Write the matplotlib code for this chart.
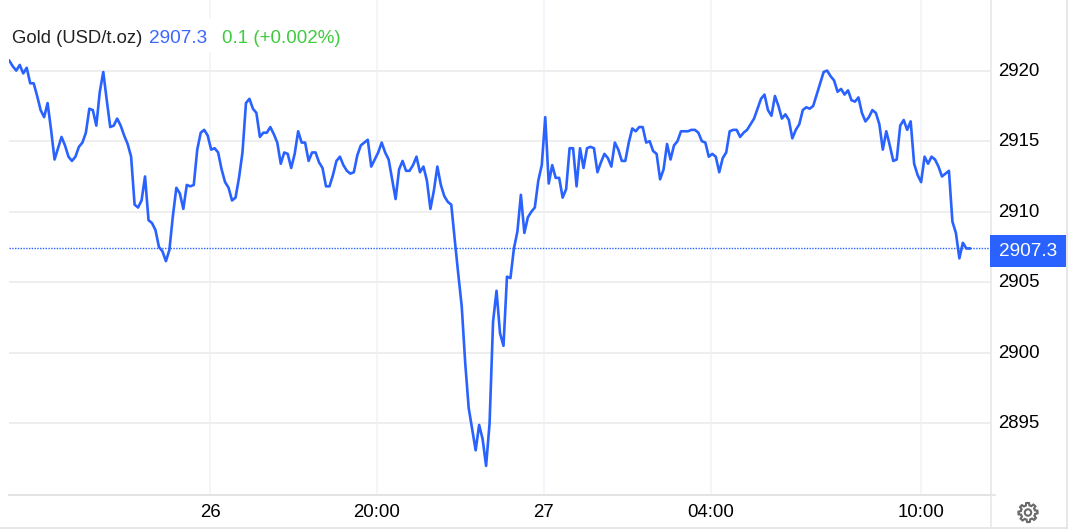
"""Gold (USD/t.oz) intraday price chart."""

import matplotlib

matplotlib.use("Agg")

import matplotlib.pyplot as plt
import numpy as np
from matplotlib.patches import Circle, Polygon, Rectangle
from matplotlib.transforms import ScaledTranslation

plt.rcParams["font.family"] = ["Liberation Sans", "DejaVu Sans"]

WIDTH, HEIGHT = 1069, 529
BLUE = "#2962ff"

# 5-minute closes
prices = [
    2920.7, 2920.3, 2920.0, 2920.4, 2919.8, 2920.2, 2919.1, 2919.1, 2918.2, 2917.2,
    2916.7, 2917.7, 2915.8, 2913.7, 2914.5, 2915.3, 2914.7, 2913.9, 2913.6, 2913.9,
    2914.6, 2914.9, 2915.6, 2917.3, 2917.2, 2916.1, 2918.5, 2919.9, 2917.9, 2916.0,
    2916.1, 2916.6, 2916.1, 2915.4, 2914.8, 2913.9, 2910.5, 2910.3, 2910.8, 2912.5,
    2909.4, 2909.2, 2908.7, 2907.5, 2907.2, 2906.5, 2907.3, 2909.7, 2911.7, 2911.3,
    2910.2, 2911.9, 2911.8, 2911.9, 2914.4, 2915.6, 2915.8, 2915.4, 2914.4, 2914.5,
    2914.2, 2913.0, 2912.1, 2911.7, 2910.8, 2911.0, 2912.4, 2914.2, 2917.7, 2918.0,
    2917.3, 2917.0, 2915.3, 2915.6, 2915.6, 2916.0, 2915.5, 2914.9, 2913.4, 2914.2,
    2914.1, 2913.1, 2914.1, 2915.7, 2914.9, 2914.9, 2913.6, 2914.2, 2914.2, 2913.5,
    2913.1, 2911.8, 2911.8, 2912.6, 2913.6, 2913.9, 2913.3, 2912.9, 2912.7, 2912.8,
    2914.0, 2914.7, 2914.9, 2915.1, 2913.2, 2913.7, 2914.2, 2914.9, 2914.2, 2913.7,
    2912.3, 2910.9, 2913.0, 2913.6, 2912.9, 2912.9, 2913.3, 2913.9, 2912.8, 2913.2,
    2912.2, 2910.2, 2911.5, 2913.2, 2911.9, 2911.1, 2910.7, 2910.5, 2908.0, 2905.6,
    2903.3, 2899.3, 2896.1, 2894.6, 2893.1, 2894.9, 2893.9, 2892.0, 2895.0, 2902.2,
    2904.4, 2901.4, 2900.5, 2905.4, 2905.3, 2907.4, 2908.6, 2911.2, 2908.5, 2909.6,
    2910.0, 2910.3, 2912.2, 2913.3, 2916.7, 2912.0, 2913.3, 2912.4, 2912.4, 2911.0,
    2911.6, 2914.5, 2914.5, 2911.8, 2914.5, 2913.1, 2914.5, 2914.6, 2914.5, 2912.8,
    2913.5, 2914.1, 2913.8, 2913.2, 2914.9, 2914.4, 2913.6, 2913.6, 2914.9, 2915.9,
    2915.7, 2916.0, 2916.0, 2914.9, 2915.0, 2914.3, 2914.1, 2912.3, 2913.0, 2914.8,
    2913.7, 2914.7, 2915.0, 2915.7, 2915.7, 2915.7, 2915.8, 2915.8, 2915.6, 2915.0,
    2914.9, 2913.9, 2914.1, 2913.9, 2912.8, 2913.8, 2914.2, 2915.7, 2915.8, 2915.8,
    2915.3, 2915.6, 2915.8, 2916.2, 2916.6, 2917.3, 2918.0, 2918.3, 2917.2, 2916.8,
    2918.2, 2917.5, 2916.6, 2916.9, 2916.5, 2915.2, 2915.8, 2916.2, 2917.2, 2917.4,
    2917.3, 2917.5, 2918.3, 2919.1, 2919.9, 2920.0, 2919.6, 2919.3, 2918.5, 2918.7,
    2918.3, 2918.6, 2917.9, 2917.8, 2918.1, 2917.0, 2916.4, 2916.7, 2917.2, 2917.0,
    2916.2, 2914.4, 2915.7, 2914.7, 2913.6, 2913.7, 2916.1, 2916.5, 2915.8, 2916.4,
    2913.4, 2912.6, 2912.1, 2913.9, 2913.4, 2913.9, 2913.7, 2913.2, 2912.5, 2912.7,
    2912.9, 2909.3, 2908.5, 2906.7, 2907.8, 2907.4, 2907.4,
]
last_label = "2907.3"
y_ticks = [2895, 2900, 2905, 2910, 2915, 2920]
x_tick_bars = [57.7, 105.6, 153.6, 201.6, 262.0]
x_tick_labels = ["26", "20:00", "27", "04:00", "10:00"]

fig = plt.figure(figsize=(WIDTH / 100, HEIGHT / 100), dpi=100, facecolor="white")

# price panel: x 9-990 px, y 0-494.5 px
ax = fig.add_axes([9 / WIDTH, 1 - 494.5 / HEIGHT, 981 / WIDTH, 494.5 / HEIGHT])
ax.set_xlim(-0.09, 281.8)
ax.set_ylim(2889.97, 2925.0)

ax.plot(range(len(prices)), prices, color=BLUE, lw=1.9, zorder=3)
ax.axhline(prices[-1], color=BLUE, lw=1.0, ls=(0, (1, 1)), zorder=2)

for y in y_ticks:
    ax.axhline(y, color="#eeeeee", lw=1.4, zorder=1)
for x in x_tick_bars:
    ax.axvline(x, color="#f2f5fa", lw=1.4, zorder=0)

ax.set_xticks(x_tick_bars, x_tick_labels)
ax.set_yticks(y_ticks, [str(y) for y in y_ticks])
ax.tick_params(axis="x", length=0, pad=7, labelsize=13.4, labelcolor="#000000")
ax.tick_params(axis="y", length=0, pad=6, labelsize=13.4, labelcolor="#000000",
               left=False, right=False, labelleft=False, labelright=True)
# labels sit a little above their gridlines
nudge = ScaledTranslation(0, 1.5 / 100, fig.dpi_scale_trans)
for label in ax.get_yticklabels():
    label.set_transform(label.get_transform() + nudge)
for side in ["top", "left", "right"]:
    ax.spines[side].set_visible(False)
ax.spines["bottom"].set_color("#e3e3e3")
ax.spines["bottom"].set_linewidth(1.4)

# overlay in pixel coordinates for the legend, price tag and frame
over = fig.add_axes([0, 0, 1, 1], facecolor="none")
over.set_xlim(0, WIDTH)
over.set_ylim(HEIGHT, 0)
over.axis("off")

over.plot([990.5, 990.5], [0, 494], color="#e8e8e8", lw=1.2)
over.plot([990.5, 990.5], [497, 529], color="#e8e8e8", lw=1.2)
over.plot([990, 995], [494.5, 494.5], color="#e3e3e3", lw=1.2)
over.plot([1066.5, 1066.5], [0, 529], color="#e3e3e3", lw=1.2)
over.plot([0, 1067], [528, 528], color="#e3e3e3", lw=1.2)

over.add_patch(Rectangle((990, 235), 76, 32, facecolor=BLUE, edgecolor="none", zorder=4))
over.text(1028, 251.5, last_label, color="white", fontsize=13.7, ha="center", va="center", zorder=5)

# legend with a white backing over the grid
over.add_patch(Rectangle((9, 18), 340, 34, facecolor="white", edgecolor="none"))
over.text(12, 43, "Gold (USD/t.oz)", color="#222222", fontsize=13.3, va="baseline")
over.text(149, 43, last_label, color="#3b66ff", fontsize=13.7, va="baseline")
over.text(222, 43, "0.1 (+0.002%)", color="#3ecb3e", fontsize=13.5, va="baseline")

# settings gear
angles = np.linspace(0, 2 * np.pi, 64, endpoint=False)
radius = np.where(((angles + np.pi / 16) % (np.pi / 4)) < np.pi / 8, 9.6, 7.2)
gear = np.column_stack([1028 + radius * np.cos(angles), 512.5 + radius * np.sin(angles)])
over.add_patch(Polygon(gear, closed=True, facecolor="none", edgecolor="#6a6a6a", lw=1.5))
over.add_patch(Circle((1028, 512.5), 3.2, facecolor="none", edgecolor="#6a6a6a", lw=1.5))

fig.savefig("out.png", dpi=100)
plt.close(fig)
